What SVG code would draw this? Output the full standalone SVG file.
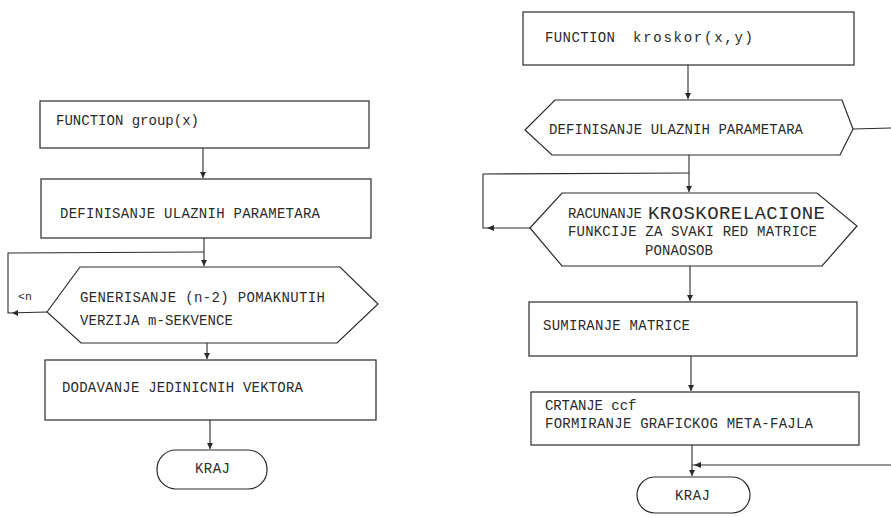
<svg xmlns="http://www.w3.org/2000/svg" width="891" height="517" viewBox="0 0 891 517">
<defs>
<style>
.s{fill:none;stroke:#2a2a2a;stroke-width:1.1}
.n{fill:#fff;stroke:#2a2a2a;stroke-width:1.2}
.t{font-family:"Liberation Mono","DejaVu Sans Mono",monospace;font-size:14px;fill:#2a2a2a}
.sm{font-size:11.5px}
.big{font-size:19px}
</style>
<marker id="ar" markerWidth="8" markerHeight="8" refX="6" refY="3" orient="auto" markerUnits="userSpaceOnUse">
<path d="M0,0 L6,3 L0,6 Z" fill="#2a2a2a"/>
</marker>
</defs>
<rect width="891" height="517" fill="#fff"/>
<g id="connectors">
<line class="s" x1="203" y1="148" x2="203" y2="178" marker-end="url(#ar)"/>
<line class="s" x1="204" y1="238" x2="204" y2="266" marker-end="url(#ar)"/>
<polyline class="s" points="204,252 8,253 8,313 47,312"/>
<path d="M12,313 L18,310 L18,316 Z" fill="#2a2a2a"/>
<line class="s" x1="207" y1="343" x2="207" y2="359" marker-end="url(#ar)"/>
<line class="s" x1="210" y1="420" x2="210" y2="449" marker-end="url(#ar)"/>
<line class="s" x1="688" y1="65" x2="688" y2="99" marker-end="url(#ar)"/>
<line class="s" x1="853" y1="129" x2="891" y2="128"/>
<line class="s" x1="689" y1="155" x2="689" y2="192" marker-end="url(#ar)"/>
<polyline class="s" points="689,173 483,174 483,228 530,228"/>
<path d="M487,228 L494,225 L494,231 Z" fill="#2a2a2a"/>
<line class="s" x1="690" y1="266" x2="690" y2="301" marker-end="url(#ar)"/>
<line class="s" x1="691" y1="356" x2="691" y2="391" marker-end="url(#ar)"/>
<line class="s" x1="692" y1="445" x2="692" y2="476" marker-end="url(#ar)"/>
<line class="s" x1="891" y1="465" x2="692" y2="465"/>
<path d="M694,465 L701,462 L701,468 Z" fill="#2a2a2a"/>
</g>
<g id="group-function">
<rect class="n" x="40" y="101" width="329" height="47"/>
<text class="t" x="56" y="125" textLength="143">FUNCTION group(x)</text>
</g>
<g id="group-definisanje">
<rect class="n" x="41" y="179" width="330" height="59"/>
<text class="t" x="60" y="218" textLength="260">DEFINISANJE ULAZNIH PARAMETARA</text>
</g>
<g id="group-generisanje">
<polygon class="n" points="47,312 80,267 340,267 378,304 337,343 81,343"/>
<text class="t" x="80" y="302" textLength="245">GENERISANJE (n-2) POMAKNUTIH</text>
<text class="t" x="80" y="325" textLength="153">VERZIJA m-SEKVENCE</text>
<text class="t sm" x="18" y="300">&lt;n</text>
</g>
<g id="group-dodavanje">
<rect class="n" x="45" y="360" width="331" height="60"/>
<text class="t" x="62" y="392" textLength="241">DODAVANJE JEDINICNIH VEKTORA</text>
</g>
<g id="group-kraj">
<rect class="n" x="157" y="450" width="110" height="39" rx="19"/>
<text class="t" x="195" y="473" textLength="35">KRAJ</text>
</g>
<g id="kroskor-function">
<rect class="n" x="523" y="12" width="331" height="53"/>
<text class="t" x="545" y="42" textLength="70">FUNCTION</text>
<text class="t" x="633" y="42" textLength="120">kroskor(x,y)</text>
</g>
<g id="kroskor-definisanje">
<polygon class="n" points="525,130 555,100 842,100 853,129 840,155 552,155"/>
<text class="t" x="549" y="134" textLength="254">DEFINISANJE ULAZNIH PARAMETARA</text>
</g>
<g id="kroskor-racunanje">
<polygon class="n" points="530,228 562,193 817,193 857,226 822,266 562,266"/>
<text class="t" x="568" y="218" textLength="74">RACUNANJE</text>
<text class="t big" x="648" y="219" textLength="177">KROSKORELACIONE</text>
<text class="t" x="568" y="236" textLength="249">FUNKCIJE ZA SVAKI RED MATRICE</text>
<text class="t" x="645" y="255" textLength="68">PONAOSOB</text>
</g>
<g id="kroskor-sumiranje">
<rect class="n" x="529" y="302" width="328" height="54"/>
<text class="t" x="543" y="330" textLength="147">SUMIRANJE MATRICE</text>
</g>
<g id="kroskor-crtanje">
<rect class="n" x="531" y="392" width="328" height="53"/>
<text class="t" x="545" y="410"><tspan textLength="58">CRTANJE</tspan> ccf</text>
<text class="t" x="545" y="428" textLength="268">FORMIRANJE GRAFICKOG META-FAJLA</text>
</g>
<g id="kroskor-kraj">
<rect class="n" x="637" y="477" width="113" height="36" rx="18"/>
<text class="t" x="675" y="500" textLength="35">KRAJ</text>
</g>
</svg>
